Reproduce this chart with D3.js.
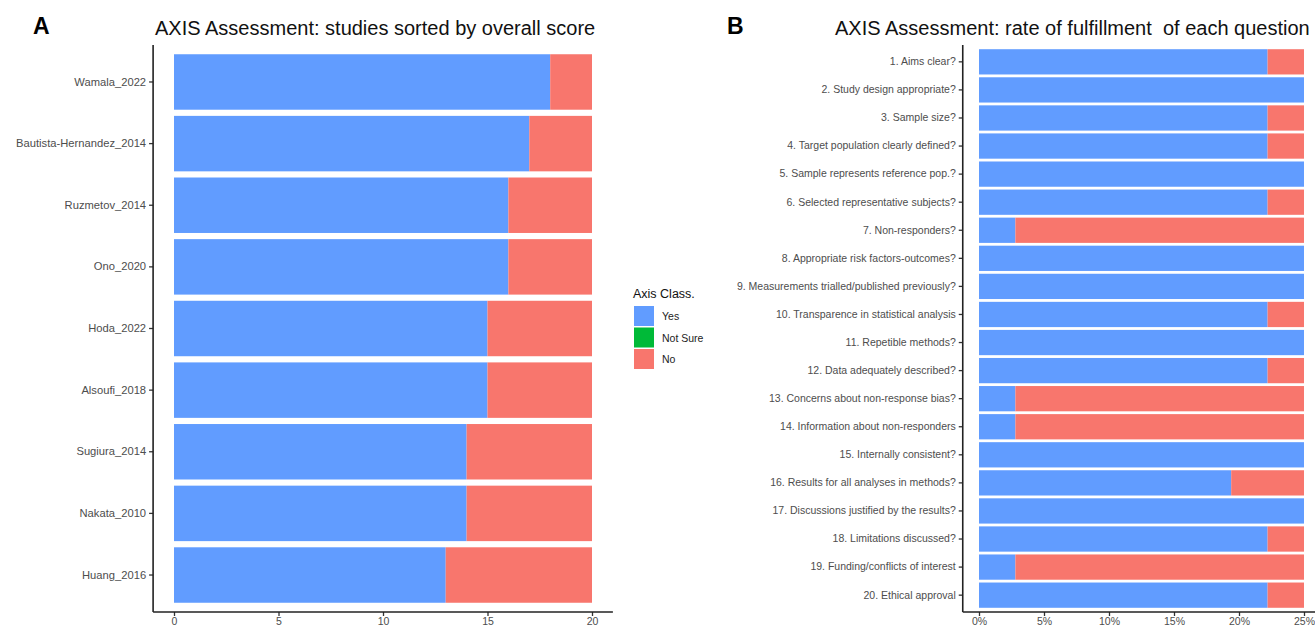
<!DOCTYPE html>
<html>
<head>
<meta charset="utf-8">
<script src="https://cdn.jsdelivr.net/npm/d3@7"></script>
<style>
  body { margin: 0; background: #fff; }
  svg { font-family: "Liberation Sans", Arial, sans-serif; }
  .tick text { fill: #4d4d4d; }
  .title { white-space: pre; }
</style>
</head>
<body>
<svg id="chart" width="1315" height="626"></svg>
<script>
// panel A: studies and their AXIS scores (out of 20)
const studies = ["Wamala_2022", "Bautista-Hernandez_2014", "Ruzmetov_2014", "Ono_2020",
  "Hoda_2022", "Alsoufi_2018", "Sugiura_2014", "Nakata_2010", "Huang_2016"];
const studyYes = [18, 17, 16, 16, 15, 15, 14, 14, 13];
const studyNo = [2, 3, 4, 4, 5, 5, 6, 6, 7];
const studyTicks = [0, 5, 10, 15, 20];

// panel B: fulfillment of each question (percent)
const questions = ["1. Aims clear?", "2. Study design appropriate?", "3. Sample size?",
  "4. Target population clearly defined?", "5. Sample represents reference pop.?",
  "6. Selected representative subjects?", "7. Non-responders?",
  "8. Appropriate risk factors-outcomes?", "9. Measurements trialled/published previously?",
  "10. Transparence in statistical analysis", "11. Repetible methods?",
  "12. Data adequately described?", "13. Concerns about non-response bias?",
  "14. Information about non-responders", "15. Internally consistent?",
  "16. Results for all analyses in methods?", "17. Discussions justified by the results?",
  "18. Limitations discussed?", "19. Funding/conflicts of interest", "20. Ethical approval"];
const questionYes = [22.2, 25, 22.2, 22.2, 25, 22.2, 2.8, 25, 25, 22.2, 25, 22.2, 2.8, 2.8, 25, 19.4, 25, 22.2, 2.8, 22.2];
const questionNo = [2.8, 0, 2.8, 2.8, 0, 2.8, 22.2, 0, 0, 2.8, 0, 2.8, 22.2, 22.2, 0, 5.6, 0, 2.8, 22.2, 2.8];
const questionTicks = [0, 5, 10, 15, 20, 25];

const classes = ["Yes", "Not Sure", "No"];
const classColors = ["#619CFF", "#00BA38", "#F8766D"];

const svg = d3.select("#chart");
const color = d3.scaleOrdinal().domain(classes).range(classColors);

function drawPanel(cfg) {
  const g = svg.append("g");
  const rows = cfg.labels.map((l, i) => ({label: l, yes: cfg.yes[i], no: cfg.no[i]}));

  const y = d3.scaleBand()
    .domain(cfg.labels)
    .range([cfg.top, cfg.bottom])
    .paddingInner(0.1)
    .paddingOuter(0.15);

  const x = d3.scaleLinear()
    .domain([0, cfg.max])
    .range([cfg.x0, cfg.x1]);
  const pad = (cfg.x1 - cfg.x0) * 0.05;

  const stacked = d3.stack().keys(["yes", "no"])(rows);
  g.selectAll(".layer")
    .data(stacked)
    .join("g")
    .attr("fill", d => d.key === "yes" ? color("Yes") : color("No"))
    .selectAll("rect")
    .data(d => d)
    .join("rect")
    .attr("x", d => x(d[0]))
    .attr("width", d => Math.max(0, x(d[1]) - x(d[0])))
    .attr("y", d => y(d.data.label))
    .attr("height", y.bandwidth());

  // axes
  const yAxis = d3.axisLeft(y).tickSize(4).tickPadding(3);
  g.append("g")
    .attr("transform", `translate(${cfg.x0 - pad},0)`)
    .call(yAxis)
    .call(a => a.select(".domain").remove())
    .call(a => a.selectAll(".tick line").attr("stroke", "#333").attr("stroke-width", 1.3))
    .call(a => a.selectAll(".tick text").attr("font-size", cfg.labelSize));

  const xAxis = d3.axisBottom(x).tickValues(cfg.ticks).tickSize(4).tickPadding(2)
    .tickFormat(cfg.fmt);
  g.append("g")
    .attr("transform", `translate(0,${cfg.bottom})`)
    .call(xAxis)
    .call(a => a.select(".domain").remove())
    .call(a => a.selectAll(".tick line").attr("stroke", "#333").attr("stroke-width", 1.3))
    .call(a => a.selectAll(".tick text").attr("font-size", 10.5));

  g.append("line")
    .attr("x1", cfg.x0 - pad).attr("x2", cfg.x0 - pad)
    .attr("y1", cfg.top).attr("y2", cfg.bottom)
    .attr("stroke", "#222").attr("stroke-width", 1.6);
  g.append("line")
    .attr("x1", cfg.x0 - pad).attr("x2", cfg.x1 + pad)
    .attr("y1", cfg.bottom).attr("y2", cfg.bottom)
    .attr("stroke", "#222").attr("stroke-width", 1.6);

  g.append("text")
    .attr("class", "title")
    .attr("x", cfg.titleX).attr("y", 35)
    .attr("font-size", 20)
    .attr("fill", "#111")
    .text(cfg.title);
  g.append("text")
    .attr("x", cfg.tagX).attr("y", 34)
    .attr("font-size", 23).attr("font-weight", "bold")
    .text(cfg.tag);
}

drawPanel({
  labels: studies, yes: studyYes, no: studyNo, max: 20, ticks: studyTicks,
  fmt: d3.format("d"), top: 45, bottom: 612, x0: 174, x1: 592, labelSize: 11.2,
  title: "AXIS Assessment: studies sorted by overall score", titleX: 155,
  tag: "A", tagX: 33
});

drawPanel({
  labels: questions, yes: questionYes, no: questionNo, max: 25, ticks: questionTicks,
  fmt: d => d + "%", top: 45, bottom: 612, x0: 979, x1: 1304, labelSize: 10.5,
  title: "AXIS Assessment: rate of fulfillment  of each question", titleX: 835,
  tag: "B", tagX: 727
});

// legend
const legend = svg.append("g").attr("transform", "translate(633,0)");
legend.append("text")
  .attr("x", 0).attr("y", 298)
  .attr("font-size", 12.5).attr("fill", "#111")
  .text("Axis Class.");
legend.selectAll("rect.key")
  .data(classes)
  .join("rect")
  .attr("class", "key")
  .attr("x", 1)
  .attr("y", (d, i) => 306 + i * 21.5)
  .attr("width", 20).attr("height", 20)
  .attr("fill", d => color(d));
legend.selectAll("text.lab")
  .data(classes)
  .join("text")
  .attr("class", "lab")
  .attr("x", 29)
  .attr("y", (d, i) => 320 + i * 21.5)
  .attr("font-size", 10.5).attr("fill", "#222")
  .text(d => d);
</script>
</body>
</html>
